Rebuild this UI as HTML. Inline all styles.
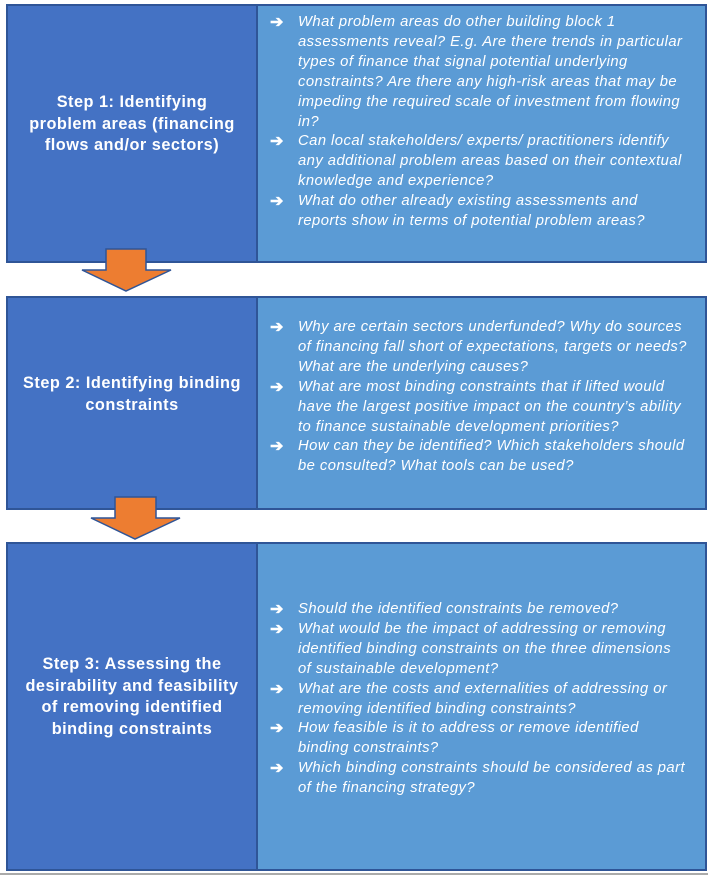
<!DOCTYPE html>
<html><head><meta charset="utf-8"><style>
body{margin:0;width:708px;height:875px;background:#fff;position:relative;overflow:hidden;font-family:"Liberation Sans",Arial,sans-serif}
.l{position:absolute;background:#4472c4;border:2px solid #2f5597;box-sizing:border-box}
.r{position:absolute;background:#5b9bd5;border:2px solid #2f5597;box-sizing:border-box}
.lt{position:absolute;left:7px;width:250px;text-align:center;color:#fff;font-weight:bold;font-size:16.3px;letter-spacing:0.5px;line-height:21.5px}
.rt{position:absolute;left:270px;color:#fff;font-style:italic;font-size:14.8px;letter-spacing:0.45px;line-height:19.9px;white-space:nowrap}
.rt div{padding-left:28px;position:relative}
.rt span{position:absolute;left:0;font-style:normal;font-weight:bold;font-size:16px}
</style></head><body>
<div class="l" style="left:6px;top:4px;width:252px;height:259px"></div>
<div class="r" style="left:256px;top:4px;width:451px;height:259px"></div>
<div class="l" style="left:6px;top:296px;width:252px;height:214px"></div>
<div class="r" style="left:256px;top:296px;width:451px;height:214px"></div>
<div class="l" style="left:6px;top:542px;width:252px;height:329px"></div>
<div class="r" style="left:256px;top:542px;width:451px;height:329px"></div>
<div style="position:absolute;left:0;top:873px;width:708px;height:2px;background:#aaa"></div>
<svg style="position:absolute;left:0;top:0" width="708" height="875">
<polygon points="106,249 146,249 146,270 171,270 126,291 82,270 106,270" fill="#ed7d31" stroke="#2f5597" stroke-width="1.5"/>
<polygon points="115,497 156,497 156,518 180,518 135,539 91,518 115,518" fill="#ed7d31" stroke="#2f5597" stroke-width="1.5"/>
</svg>
<div class="lt" style="top:92px">Step 1: Identifying<br>problem areas (financing<br>flows and/or sectors)</div>
<div class="lt" style="top:373px">Step 2: Identifying binding<br>constraints</div>
<div class="lt" style="top:654px">Step 3: Assessing the<br>desirability and feasibility<br>of removing identified<br>binding constraints</div>
<div class="rt" style="top:13px">
<div><span>➔</span>What problem areas do other building block 1<br>assessments reveal? E.g. Are there trends in particular<br>types of finance that signal potential underlying<br>constraints? Are there any high-risk areas that may be<br>impeding the required scale of investment from flowing<br>in?</div>
<div><span>➔</span>Can local stakeholders/ experts/ practitioners identify<br>any additional problem areas based on their contextual<br>knowledge and experience?</div>
<div><span>➔</span>What do other already existing assessments and<br>reports show in terms of potential problem areas?</div>
</div>
<div class="rt" style="top:318px">
<div><span>➔</span>Why are certain sectors underfunded? Why do sources<br>of financing fall short of expectations, targets or needs?<br>What are the underlying causes?</div>
<div><span>➔</span>What are most binding constraints that if lifted would<br>have the largest positive impact on the country’s ability<br>to finance sustainable development priorities?</div>
<div><span>➔</span>How can they be identified? Which stakeholders should<br>be consulted? What tools can be used?</div>
</div>
<div class="rt" style="top:600px">
<div><span>➔</span>Should the identified constraints be removed?</div>
<div><span>➔</span>What would be the impact of addressing or removing<br>identified binding constraints on the three dimensions<br>of sustainable development?</div>
<div><span>➔</span>What are the costs and externalities of addressing or<br>removing identified binding constraints?</div>
<div><span>➔</span>How feasible is it to address or remove identified<br>binding constraints?</div>
<div><span>➔</span>Which binding constraints should be considered as part<br>of the financing strategy?</div>
</div>
</body></html>
